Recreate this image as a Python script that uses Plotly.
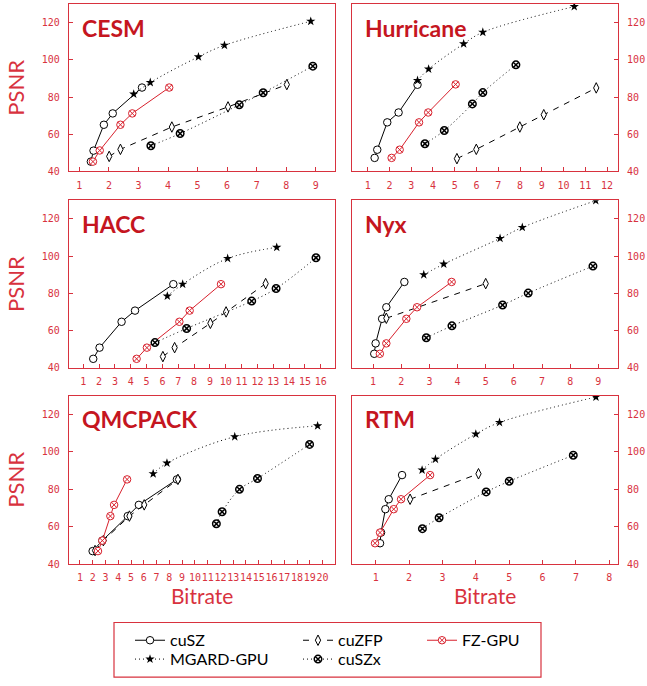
import plotly.graph_objects as go

# ---------------- data ----------------
datasets = ["CESM", "Hurricane", "HACC", "Nyx", "QMCPACK", "RTM"]
compressors = ["cuSZ", "cuZFP", "FZ-GPU", "MGARD-GPU", "cuSZx"]
psnr_ticks = [40, 60, 80, 100, 120]

# CESM
cesm_cusz_x = [1.39, 1.48, 1.83, 2.13, 3.12]
cesm_cusz_y = [45.3, 51.2, 65.1, 71.2, 85.1]
cesm_cuzfp_x = [2.01, 2.39, 4.13, 6.03, 8.02]
cesm_cuzfp_y = [48.1, 51.9, 63.9, 74.7, 86.7]
cesm_fzgpu_x = [1.46, 1.69, 2.39, 2.79, 4.04]
cesm_fzgpu_y = [45.3, 51.3, 65.1, 71.2, 85.1]
cesm_mgard_x = [2.84, 3.40, 5.03, 5.91, 8.83]
cesm_mgard_y = [81.6, 87.8, 101.6, 107.8, 120.7]
cesm_cuszx_x = [3.42, 4.41, 6.41, 7.22, 8.90]
cesm_cuszx_y = [53.8, 60.4, 75.8, 82.3, 96.6]

# Hurricane
hurr_cusz_x = [1.32, 1.44, 1.90, 2.42, 3.29]
hurr_cusz_y = [47.3, 51.7, 66.4, 71.7, 86.6]
hurr_cuzfp_x = [5.10, 5.99, 7.99, 9.09, 11.50]
hurr_cuzfp_y = [46.9, 51.9, 63.9, 70.5, 84.9]
hurr_fzgpu_x = [2.10, 2.47, 3.36, 3.78, 5.04]
hurr_fzgpu_y = [47.3, 51.7, 66.4, 71.7, 86.8]
hurr_mgard_x = [3.29, 3.80, 5.41, 6.29, 10.49]
hurr_mgard_y = [88.9, 95.0, 108.6, 114.8, 128.6]
hurr_cuszx_x = [3.63, 4.52, 5.81, 6.29, 7.81]
hurr_cuszx_y = [54.9, 62.0, 76.3, 82.4, 97.3]

# HACC
hacc_cusz_x = [1.63, 2.03, 3.42, 4.27, 6.69]
hacc_cusz_y = [44.8, 50.8, 64.7, 70.7, 84.9]
hacc_cuzfp_x = [6.03, 6.77, 9.03, 10.02, 12.52]
hacc_cuzfp_y = [46.0, 50.8, 63.9, 70.0, 85.2]
hacc_fzgpu_x = [4.37, 5.02, 7.07, 7.72, 9.70]
hacc_fzgpu_y = [44.8, 50.8, 64.7, 70.7, 84.9]
hacc_mgard_x = [6.31, 7.28, 10.12, 13.22]
hacc_mgard_y = [78.5, 84.9, 98.7, 104.7]
hacc_cuszx_x = [5.53, 7.53, 11.64, 13.18, 15.70]
hacc_cuszx_y = [53.5, 61.1, 75.8, 82.6, 99.1]

# Nyx
nyx_cusz_x = [1.04, 1.09, 1.32, 1.47, 2.11]
nyx_cusz_y = [47.5, 53.1, 66.3, 72.5, 86.1]
nyx_cuzfp_x = [1.47, 5.00]
nyx_cuzfp_y = [66.6, 85.2]
nyx_fzgpu_x = [1.24, 1.47, 2.18, 2.56, 3.79]
nyx_fzgpu_y = [47.5, 53.1, 66.3, 72.5, 86.1]
nyx_mgard_x = [2.80, 3.51, 5.51, 6.30, 8.91]
nyx_mgard_y = [90.0, 95.7, 109.5, 115.4, 129.8]
nyx_cuszx_x = [2.89, 3.80, 5.60, 6.51, 8.81]
nyx_cuszx_y = [56.1, 62.5, 73.7, 80.1, 94.6]

# QMCPACK
qmc_cusz_x = [1.99, 2.75, 4.74, 5.61, 8.59]
qmc_cusz_y = [46.9, 52.5, 65.6, 71.6, 85.2]
qmc_cuzfp_x = [2.18, 2.83, 4.87, 6.03, 8.67]
qmc_cuzfp_y = [47.2, 52.5, 65.6, 71.6, 85.2]
qmc_fzgpu_x = [2.41, 2.75, 3.38, 3.67, 4.69]
qmc_fzgpu_y = [46.9, 52.5, 65.6, 71.6, 85.2]
qmc_mgard_x = [6.73, 7.81, 13.12, 19.61]
qmc_mgard_y = [88.2, 93.9, 108.0, 113.8]
qmc_cuszx_x = [11.68, 12.13, 13.49, 14.90, 18.98]
qmc_cuszx_y = [61.5, 67.9, 79.9, 85.7, 103.9]

# RTM
rtm_cusz_x = [1.13, 1.16, 1.29, 1.39, 1.79]
rtm_cusz_y = [51.1, 56.8, 69.3, 74.6, 87.5]
rtm_cuzfp_x = [2.03, 4.08]
rtm_cuzfp_y = [74.6, 88.2]
rtm_fzgpu_x = [0.98, 1.13, 1.54, 1.76, 2.63]
rtm_fzgpu_y = [51.1, 56.8, 69.3, 74.6, 87.5]
rtm_mgard_x = [2.39, 2.79, 4.00, 4.71, 7.60]
rtm_mgard_y = [90.2, 96.0, 109.4, 115.6, 129.2]
rtm_cuszx_x = [2.40, 2.90, 4.31, 5.00, 6.92]
rtm_cuszx_y = [58.9, 64.7, 78.5, 84.2, 98.1]

series = {
    "CESM": [(cesm_cusz_x, cesm_cusz_y), (cesm_cuzfp_x, cesm_cuzfp_y), (cesm_fzgpu_x, cesm_fzgpu_y),
             (cesm_mgard_x, cesm_mgard_y), (cesm_cuszx_x, cesm_cuszx_y)],
    "Hurricane": [(hurr_cusz_x, hurr_cusz_y), (hurr_cuzfp_x, hurr_cuzfp_y), (hurr_fzgpu_x, hurr_fzgpu_y),
                  (hurr_mgard_x, hurr_mgard_y), (hurr_cuszx_x, hurr_cuszx_y)],
    "HACC": [(hacc_cusz_x, hacc_cusz_y), (hacc_cuzfp_x, hacc_cuzfp_y), (hacc_fzgpu_x, hacc_fzgpu_y),
             (hacc_mgard_x, hacc_mgard_y), (hacc_cuszx_x, hacc_cuszx_y)],
    "Nyx": [(nyx_cusz_x, nyx_cusz_y), (nyx_cuzfp_x, nyx_cuzfp_y), (nyx_fzgpu_x, nyx_fzgpu_y),
            (nyx_mgard_x, nyx_mgard_y), (nyx_cuszx_x, nyx_cuszx_y)],
    "QMCPACK": [(qmc_cusz_x, qmc_cusz_y), (qmc_cuzfp_x, qmc_cuzfp_y), (qmc_fzgpu_x, qmc_fzgpu_y),
                (qmc_mgard_x, qmc_mgard_y), (qmc_cuszx_x, qmc_cuszx_y)],
    "RTM": [(rtm_cusz_x, rtm_cusz_y), (rtm_cuzfp_x, rtm_cuzfp_y), (rtm_fzgpu_x, rtm_fzgpu_y),
            (rtm_mgard_x, rtm_mgard_y), (rtm_cuszx_x, rtm_cuszx_y)],
}

x_ranges = {"CESM": [0.65, 9.65], "Hurricane": [0.28, 12.5], "HACC": [0.1, 16.9],
            "Nyx": [0.25, 9.7], "QMCPACK": [0.14, 20.97], "RTM": [0.29, 8.26]}

# ---------------- styling ----------------
W, H = 647, 686
RED = "#d8323e"
TITLE_RED = "#c5161f"
TICK_FONT = dict(family="DejaVu Sans Mono", size=10, color=RED)
TEXT_FONT = "Lato"

styles = [
    dict(line=dict(color="black", width=1, dash="solid", shape="linear"),
         marker=dict(symbol="circle", size=7.5, color="white", line=dict(color="black", width=1))),
    dict(line=dict(color="black", width=1, dash="6px,6px", shape="linear"),
         marker=dict(symbol="diamond-tall", size=7.5, color="white", line=dict(color="black", width=1))),
    dict(line=dict(color="#d8202c", width=1, dash="solid", shape="linear"),
         marker=dict(symbol="circle-x", size=7.5, color="white", line=dict(color="#d8202c", width=1))),
    dict(line=dict(color="black", width=1, dash="1px,3px", shape="spline"),
         marker=dict(symbol="star", size=7, color="black", line=dict(color="black", width=0))),
    dict(line=dict(color="black", width=1, dash="1px,3px", shape="spline"),
         marker=dict(symbol="circle-x", size=7.5, color="white", line=dict(color="black", width=1.5))),
]

legend_ids = ["legend", "legend2", "legend3", "legend4", "legend5"]
# legend item pixel positions (left x, centre y)
legend_pos = [(130, 646), (298, 646), (422, 646), (130, 665), (298, 665)]

# panel pixel boxes: (left, right, top, bottom)
col_px = [(69, 335), (352, 618)]
row_px = [(4, 173), (202, 371), (399, 569)]

fig = go.Figure()
layout_axes = {}
annotations = []

for i, name in enumerate(datasets):
    r, c = divmod(i, 2)
    xl, xr = col_px[c]
    yt, yb = row_px[r]
    xa = "x" if i == 0 else f"x{i + 1}"
    ya = "y" if i == 0 else f"y{i + 1}"
    xkey = "xaxis" if i == 0 else f"xaxis{i + 1}"
    ykey = "yaxis" if i == 0 else f"yaxis{i + 1}"
    rng = x_ranges[name]
    layout_axes[xkey] = dict(
        domain=[xl / W, xr / W], anchor=ya, range=rng, tickmode="linear", tick0=1, dtick=1,
        ticks="inside", ticklen=4, tickcolor=RED, tickwidth=1, tickangle=0,
        showline=True, mirror=True, linecolor=RED, linewidth=1.2, showgrid=False,
        zeroline=False, tickfont=TICK_FONT, ticklabelstandoff=4)
    layout_axes[ykey] = dict(
        domain=[1 - yb / H, 1 - yt / H], anchor=xa, range=[40, 130], tickmode="array",
        tickvals=psnr_ticks, ticks="inside", ticklen=4, tickcolor=RED, tickwidth=1,
        showline=True, mirror=True, linecolor=RED, linewidth=1.2, showgrid=False,
        zeroline=False, tickfont=TICK_FONT, side="left" if c == 0 else "right",
        ticklabelstandoff=6)

    for k, comp in enumerate(compressors):
        xs, ys = series[name][k]
        st = styles[k]
        fig.add_trace(go.Scatter(
            x=xs, y=ys, mode="lines+markers", name=comp,
            line=st["line"], marker=st["marker"], xaxis=xa, yaxis=ya,
            showlegend=(i == 0), legend=legend_ids[k]))

    annotations.append(dict(
        text=f"<b>{name}</b>", xref=f"{xa} domain", yref=f"{ya} domain",
        x=0.04, y=0.955, xanchor="left", yanchor="top", showarrow=False,
        font=dict(family=TEXT_FONT, size=23, color=TITLE_RED)))
    if c == 0:
        annotations.append(dict(
            text="PSNR", xref="paper", yref="paper", x=16 / W, y=1 - (yt + yb) / 2 / H,
            xanchor="center", yanchor="middle", textangle=-90, showarrow=False,
            font=dict(family=TEXT_FONT, size=22, color=RED)))
    if r == 2:
        annotations.append(dict(
            text="Bitrate", xref="paper", yref="paper", x=(xl + xr) / 2 / W, y=1 - 601 / H,
            xanchor="center", yanchor="middle", showarrow=False,
            font=dict(family=TEXT_FONT, size=21, color=RED)))

legends = {}
for k, lid in enumerate(legend_ids):
    lx, ly = legend_pos[k]
    legends[lid] = dict(
        x=lx / W, y=1 - ly / H, xanchor="left", yanchor="middle", orientation="h",
        bgcolor="rgba(0,0,0,0)", borderwidth=0,
        font=dict(family=TEXT_FONT, size=16, color="black"))

fig.update_layout(
    width=W, height=H, margin=dict(l=0, r=0, t=0, b=0),
    paper_bgcolor="white", plot_bgcolor="white",
    annotations=annotations,
    shapes=[dict(type="rect", xref="paper", yref="paper",
                 x0=114 / W, x1=541 / W, y0=1 - 683 / H, y1=1 - 628 / H,
                 line=dict(color=RED, width=1.2), fillcolor="rgba(0,0,0,0)")],
    **layout_axes, **legends)

fig.write_html("out.html")
